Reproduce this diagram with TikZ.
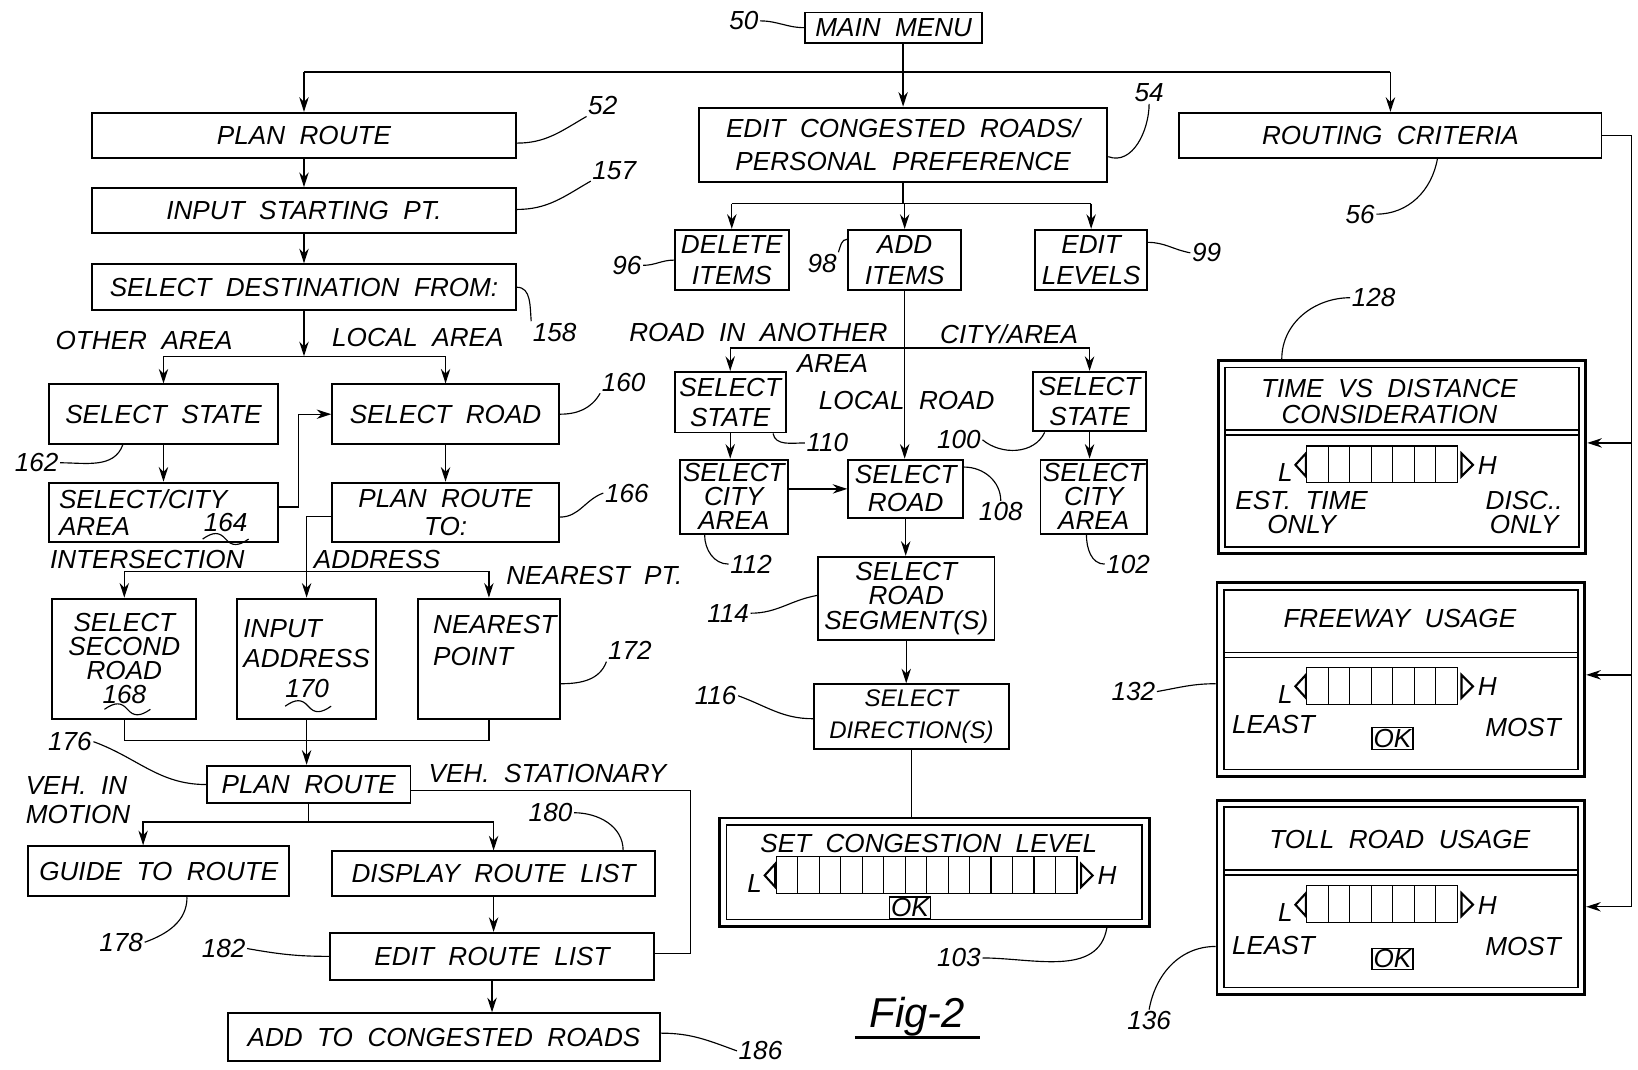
\documentclass[tikz,border=0pt]{standalone}
\usepackage{fontspec}
\setmainfont{Liberation Sans}[WordSpace=2]
\usetikzlibrary{arrows.meta}
\newcommand{\lettering}{\fontsize{25}{30}\selectfont\itshape}
\newcommand{\tightlettering}{\fontsize{25}{23}\selectfont\itshape}
\newcommand{\cellw}{20.57}
\tikzset{
  pics/levelbar/.style={code={
    \foreach \i in {1,...,#1}
      \draw[cell] ({(\i-1)*\cellw},0) rectangle ++(\cellw,35);
    \draw[tri] (-1,7) -- (-11,18) -- (-1,29) -- cycle;
    \draw[tri] ({#1*\cellw+4},7) -- ({#1*\cellw+15},18) -- ({#1*\cellw+4},29) -- cycle;
    \node[txt, anchor=base east] (-lo) at (-13,34) {L};
    \node[txt, anchor=base west] (-hi) at ({#1*\cellw+19},27) {H};
  }},
  pics/squig/.style={code={
    \draw[lead] (-22,0) .. controls (-12,-7) and (-6,-7) .. (0,0) .. controls (6,7) and (12,7) .. (22,0);
  }}
}
\begin{document}
\begin{tikzpicture}[x=1pt, y=-1pt, line width=1.3pt,
  box/.style={draw, line width=1.8pt, inner sep=0pt, font=\lettering, align=center},
  tbox/.style={box, font=\tightlettering},
  panel/.style={draw, line width=2.8pt, inner sep=0pt},
  inner/.style={line width=1.4pt},
  txt/.style={font=\lettering, inner sep=0pt, align=center},
  num/.style={font=\lettering, inner sep=1pt},
  okbox/.style={draw, line width=1.3pt, inner sep=1.5pt, font=\lettering},
  arr/.style={-{Stealth[length=14pt,width=9pt]}},
  lead/.style={line width=1.1pt},
  cell/.style={line width=1.1pt},
  tri/.style={line width=2pt, line join=miter}]
\useasboundingbox (0,0) rectangle (1568,1024);
\coordinate (topbus) at (0,69);
\coordinate (destbus) at (0,341);
\coordinate (tobus) at (0,547);
\coordinate (joinbus) at (0,709);
\coordinate (editbus) at (0,195);
\coordinate (addbus) at (0,333);
\coordinate (critbus) at (1562,0);

\node[box, minimum width=169pt, minimum height=29pt] (menu) at (855.5,26.5) {MAIN MENU};

% plan route column
\node[box, minimum width=406pt, minimum height=43pt] (plan) at (291,129.5) {PLAN ROUTE};
\node[box, minimum width=406pt, minimum height=43pt] (start) at (291,201.5) {INPUT STARTING PT.};
\node[box, minimum width=406pt, minimum height=44pt] (dest) at (291,275) {SELECT DESTINATION FROM:};
\node[box, minimum width=219pt, minimum height=57pt] (state) at (156.5,396.5) {SELECT STATE};
\node[box, minimum width=217pt, minimum height=57pt] (road) at (426.5,396.5) {SELECT ROAD};
\node[box, minimum width=219pt, minimum height=57pt, text width=200pt, align=left, font=\fontsize{25}{26}\selectfont\itshape] (city) at (156.5,490.5) {SELECT/CITY\\AREA};
\node[box, minimum width=217pt, minimum height=57pt, font=\fontsize{25}{27}\selectfont\itshape] (routeto) at (426.5,490.5) {PLAN ROUTE\\TO:};
\node[tbox, minimum width=138pt, minimum height=115pt] (second) at (119,630.5) {SELECT\\SECOND\\ROAD\\168};
\node[box, minimum width=133pt, minimum height=115pt, align=left, font=\fontsize{25}{29}\selectfont\itshape] (address) at (293.5,630.5) {INPUT\\ADDRESS\\\hspace*{40pt}170};
\node[box, minimum width=136pt, minimum height=115pt] (nearest) at (468,630.5) {};
\node[txt, anchor=west, align=left] (nearesttext) at (414,613) {NEAREST\\POINT};
\node[box, minimum width=195pt, minimum height=36pt] (plan2) at (295.5,751) {PLAN ROUTE};
\node[box, minimum width=250pt, minimum height=48pt] (guide) at (152,834) {GUIDE TO ROUTE};
\node[box, minimum width=309pt, minimum height=43pt] (display) at (472.5,836.5) {DISPLAY ROUTE LIST};
\node[box, minimum width=310pt, minimum height=45pt] (editlist) at (471,915.5) {EDIT ROUTE LIST};
\node[box, minimum width=414pt, minimum height=46pt] (addroads) at (425,993) {ADD TO CONGESTED ROADS};

% congested roads column
\node[box, minimum width=391pt, minimum height=71pt, font=\fontsize{25}{32}\selectfont\itshape] (editroads) at (864.5,138.5) {EDIT CONGESTED ROADS/\\PERSONAL PREFERENCE};
\node[box, minimum width=109pt, minimum height=58pt] (delete) at (700.5,249) {DELETE\\ITEMS};
\node[box, minimum width=108pt, minimum height=58pt] (additems) at (866,249) {ADD\\ITEMS};
\node[box, minimum width=107pt, minimum height=58pt] (editlevels) at (1044.5,249) {EDIT\\LEVELS};
\node[box, minimum width=106pt, minimum height=58pt, font=\fontsize{25}{29}\selectfont\itshape] (state110) at (699,385) {SELECT\\STATE};
\node[tbox, minimum width=103pt, minimum height=71pt] (city112) at (702.5,475.5) {SELECT\\CITY\\AREA};
\node[box, minimum width=110pt, minimum height=56pt, font=\fontsize{25}{27}\selectfont\itshape] (road108) at (867,468) {SELECT\\ROAD};
\node[box, minimum width=108pt, minimum height=57pt, font=\fontsize{25}{29}\selectfont\itshape] (state100) at (1043,384.5) {SELECT\\STATE};
\node[tbox, minimum width=102pt, minimum height=71pt] (city102) at (1047,475.5) {SELECT\\CITY\\AREA};
\node[tbox, minimum width=169pt, minimum height=80pt] (segment) at (867.5,573) {SELECT\\ROAD\\SEGMENT(S)};
\node[box, minimum width=187pt, minimum height=62pt, font=\fontsize{23}{30}\selectfont\itshape] (direction) at (872.5,686) {SELECT\\DIRECTION(S)};
\node[panel, minimum width=411pt, minimum height=104pt] (p103) at (894.5,835) {};

% routing criteria column
\node[box, minimum width=404pt, minimum height=43pt] (routing) at (1331,129.5) {ROUTING CRITERIA};
\node[panel, minimum width=352pt, minimum height=185pt] (p128) at (1342,437.5) {};
\node[panel, minimum width=352pt, minimum height=185pt] (p132) at (1341,650.5) {};
\node[panel, minimum width=352pt, minimum height=186pt] (p136) at (1341,859) {};
\foreach \p in {p128,p132,p136,p103}
  \draw[inner] ([shift={(8,8)}]\p.north west) rectangle ([shift={(-8,-8)}]\p.south east);
\foreach \p in {p128,p132,p136} {
  \draw[inner] ([shift={(8,68)}]\p.north west) -- ([shift={(-8,68)}]\p.north east);
  \draw[inner] ([shift={(8,73)}]\p.north west) -- ([shift={(-8,73)}]\p.north east);
}

% panel contents
\node[txt, font=\fontsize{25}{25}\selectfont\itshape] (timedist) at (1330,384) {TIME VS DISTANCE\\CONSIDERATION};
\pic (bar128) at (1251,427) {levelbar=7};
\node[txt, font=\tightlettering] (esttime) at (1246,491) {EST. TIME\\ONLY};
\node[txt, font=\tightlettering] (disconly) at (1459,491) {DISC..\\ONLY};
\node[txt] (freeway) at (1340,592) {FREEWAY USAGE};
\pic (bar132) at (1251,639) {levelbar=7};
\node[txt] (least132) at (1219,694) {LEAST};
\node[txt] (most132) at (1458,696) {MOST};
\node[okbox] (ok132) at (1333,707) {OK};
\node[txt] (tollroad) at (1340,804) {TOLL ROAD USAGE};
\pic (bar136) at (1251,848) {levelbar=7};
\node[txt] (least136) at (1219,905) {LEAST};
\node[txt] (most136) at (1458,906) {MOST};
\node[okbox] (ok136) at (1333,918) {OK};
\node[txt] (setlevel) at (889,807) {SET CONGESTION LEVEL};
\pic (bar103) at (743,820) {levelbar=14};
\node[okbox] (ok103) at (871,869) {OK};

% branch labels
\node[txt] (otherarea) at (138,326) {OTHER AREA};
\node[txt] (localarea) at (400,323) {LOCAL AREA};
\node[txt] (intersection) at (141,536) {INTERSECTION};
\node[txt] (addresslab) at (361,536) {ADDRESS};
\node[txt] (nearestpt) at (569,551) {NEAREST PT.};
\node[txt, anchor=west, align=left, font=\fontsize{25}{28}\selectfont\itshape] (vehmotion) at (24,766) {VEH. IN\\MOTION};
\node[txt] (vehstat) at (524,740) {VEH. STATIONARY};
\node[txt] (roadanother) at (726,318) {ROAD IN ANOTHER};
\node[txt] (anotherarea) at (797,348) {AREA};
\node[txt] (cityarea) at (966,320) {CITY/AREA};
\node[txt] (localroad) at (868,383) {LOCAL ROAD};

% reference numerals
\node[num] (n50) at (712,20) {50};
\node[num] (n52) at (577,101) {52};
\node[num] (n157) at (588,163) {157};
\node[num] (n158) at (531,318) {158};
\node[num] (n54) at (1100,89) {54};
\node[num] (n56) at (1302,205) {56};
\node[num] (n96) at (600,254) {96};
\node[num] (n98) at (787,252) {98};
\node[num] (n99) at (1155,242) {99};
\node[num] (n162) at (35,443) {162};
\node[num] (n160) at (597,366) {160};
\node[num] (n164) at (216,500) {164};
\node[num] (n166) at (600,472) {166};
\node[num] (n172) at (603,623) {172};
\node[num] (n176) at (67,710) {176};
\node[num] (n178) at (116,902) {178};
\node[num] (n180) at (527,778) {180};
\node[num] (n182) at (214,908) {182};
\node[num] (n186) at (728,1006) {186};
\node[num] (n110) at (792,424) {110};
\node[num] (n112) at (719,540) {112};
\node[num] (n108) at (958,490) {108};
\node[num] (n100) at (918,421) {100};
\node[num] (n102) at (1080,540) {102};
\node[num] (n114) at (697,587) {114};
\node[num] (n116) at (685,666) {116};
\node[num] (n103) at (918,917) {103};
\node[num] (n128) at (1315,285) {128};
\node[num] (n132) at (1085,662) {132};
\node[num] (n136) at (1100,977) {136};
\pic at (216,516) {squig};
\pic at (122,679) {squig};
\pic at (295,676) {squig};

\node[txt, font=\fontsize{40}{40}\selectfont\itshape, anchor=base, minimum width=118pt] (fig) at (878,984) {Fig-2};
\draw[line width=2.5pt] ([shift={(0,9)}]fig.base west) -- ([shift={(0,9)}]fig.base east);

% main menu branches
\draw[arr] (editroads.north |- menu.south) -- (editroads.north);
\draw (plan.north |- topbus) -- (routing.north |- topbus);
\draw[arr] (plan.north |- topbus) -- (plan.north);
\draw[arr] (routing.north |- topbus) -- (routing.north);

% plan route flow
\draw[arr] (plan) -- (start);
\draw[arr] (start) -- (dest);
\draw[arr] (dest.south) -- (dest.south |- destbus);
\draw (state.north |- destbus) -- (road.north |- destbus);
\draw[arr] (state.north |- destbus) -- (state.north);
\draw[arr] (road.north |- destbus) -- (road.north);
\draw[arr] (state) -- (city);
\draw[arr] ([shift={(0,-5)}]city.east) -- ++(19,0) |- (road.west);
\draw[arr] (road) -- (routeto);
\draw[arr] ([shift={(0,4)}]routeto.west) -| (address.north);
\draw (second.north |- tobus) -- (nearest.north |- tobus);
\draw[arr] (second.north |- tobus) -- (second.north);
\draw[arr] (nearest.north |- tobus) -- (nearest.north);
\draw (second.south) |- (nearest.south |- joinbus) -- (nearest.south);
\draw[arr] (address.south) -- (address.south |- plan2.north);
\draw[arr] (plan2.south) -- ++(0,17) -| ([xshift=-15pt]guide.north);
\draw[arr] (plan2.south) -- ++(0,17) -| (display.north);
\draw ([shift={(0,6)}]plan2.east) -- ++(267,0) |- ([shift={(0,-3)}]editlist.east);
\draw[arr] (display.south) -- (display.south |- editlist.north);
\draw[arr] (editlist.south) -- (editlist.south |- addroads.north);

% congested roads flow
\draw (editroads.south) -- (editroads.south |- editbus);
\draw (delete.north |- editbus) -- (editlevels.north |- editbus);
\foreach \n in {delete,additems,editlevels}
  \draw[arr] (\n.north |- editbus) -- (\n.north);
\draw[arr] (additems.south) -- (additems.south |- road108.north);
\draw (state110.north |- addbus) -- (state100.north |- addbus);
\draw[arr] (state110.north |- addbus) -- (state110.north);
\draw[arr] (state100.north |- addbus) -- (state100.north);
\draw[arr] (state110.south) -- (state110.south |- city112.north);
\draw[arr] (state100.south) -- (state100.south |- city102.north);
\draw[arr] (city112.east |- road108.west) -- (road108.west);
\draw[arr] (road108.south) -- (road108.south |- segment.north);
\draw[arr] (segment.south) -- (segment.south |- direction.north);
\draw (direction.south) -- (direction.south |- p103.north);

% routing criteria flow
\coordinate (a128) at ([shift={(0,-13.5)}]p128.east);
\coordinate (a132) at ([shift={(0,-4.5)}]p132.east);
\coordinate (a136) at ([shift={(0,9)}]p136.east);
\draw (routing.east) -- (routing.east -| critbus) -- (critbus |- a136);
\foreach \p in {a128,a132,a136}
  \draw[arr] (critbus |- \p) -- (\p);

% leaders
\draw[lead] (n50.east) to[out=0,in=180] (menu.west);
\draw[lead] ([shift={(0,7.5)}]plan.east) to[out=0,in=210] (n52.south west);
\draw[lead] ([shift={(0,-1)}]start.east) to[out=0,in=210] (n157.south west);
\draw[lead] (dest.east) to[out=0,in=95] (n158.north west);
\draw[lead] ([shift={(0,11.5)}]editroads.east) to[out=-20,in=-90] (n54.south);
\draw[lead] (n56.east) to[out=0,in=-100] ([xshift=45pt]routing.south);
\draw[lead] (n96.east) to[out=0,in=180] (delete.west);
\draw[lead] (n98.north east) to[out=70,in=180] ([shift={(0,-20)}]additems.west);
\draw[lead] ([shift={(0,-17)}]editlevels.east) to[out=0,in=170] (n99.west);
\draw[lead] ([xshift=-39pt]state.south) to[out=-110,in=0] (n162.east);
\draw[lead] (road.east) to[out=0,in=-120] (n160.south west);
\draw[lead] ([shift={(0,4.5)}]routeto.east) to[out=0,in=200] (n166.west);
\draw[lead] ([shift={(0,24)}]nearest.east) to[out=0,in=-110] (n172.south west);
\draw[lead] (n176.east) to[out=-20,in=180] (plan2.west);
\draw[lead] ([xshift=27pt]guide.south) to[out=-90,in=20] (n178.east);
\draw[lead] (n180.east) to[out=0,in=90] ([xshift=124pt]display.north);
\draw[lead] (n182.east) to[out=-10,in=180] (editlist.west);
\draw[lead] ([shift={(0,-4)}]addroads.east) to[out=0,in=160] (n186.west);
\draw[lead] ([xshift=41pt]state110.south) to[out=-80,in=180] (n110.west);
\draw[lead] ([xshift=-28pt]city112.south) to[out=-90,in=180] (n112.west);
\draw[lead] ([shift={(0,8)}]road108.north east) to[out=0,in=90] (n108.north);
\draw[lead] (n100.east) to[out=-40,in=-115] ([xshift=-43pt]state100.south);
\draw[lead] ([xshift=-7pt]city102.south) to[out=-90,in=180] (n102.west);
\draw[lead] (n114.east) to[out=0,in=190] ([shift={(0,-3)}]segment.west);
\draw[lead] (n116.east) to[out=-20,in=180] ([shift={(0,2)}]direction.west);
\draw[lead] (n103.east) to[out=0,in=-100] ([xshift=165pt]p103.south);
\draw[lead] (n128.west) to[out=180,in=90] ([xshift=-115pt]p128.north);
\draw[lead] (n132.east) to[out=10,in=180] ([shift={(0,4)}]p132.west);
\draw[lead] ([shift={(0,47)}]p136.west) to[out=180,in=80] (n136.north);
\end{tikzpicture}
\end{document}
